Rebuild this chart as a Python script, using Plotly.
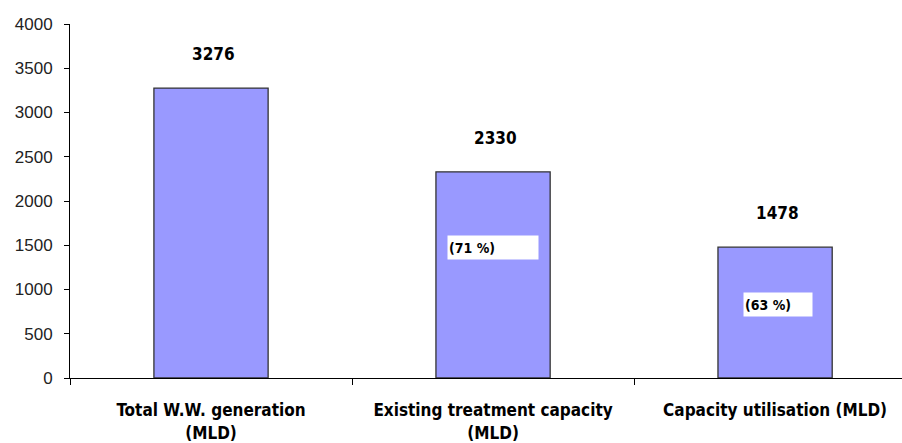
import plotly.graph_objects as go

# Wastewater figures (million litres per day)
categories = ["Total W.W. generation<br>(MLD)",
              "Existing treatment capacity<br>(MLD)",
              "Capacity utilisation (MLD)"]
values = [3276, 2330, 1478]
share_labels = [None, "(71 %)", "(63 %)"]
y_ticks = [0, 500, 1000, 1500, 2000, 2500, 3000, 3500, 4000]

BOLD_FONT = "DejaVu Sans Condensed, Liberation Sans Narrow, Liberation Sans"
x_idx = list(range(len(categories)))

fig = go.Figure()
fig.add_trace(go.Bar(
    x=x_idx,
    y=values,
    width=0.405,
    marker=dict(color="#9999FF", line=dict(color="#333333", width=1.3)),
    hoverinfo="skip",
))

# value labels floating above each bar
for i, v in enumerate(values):
    fig.add_annotation(
        x=i, y=v, text=f"<b>{v}</b>", showarrow=False, yanchor="middle",
        yshift=34, xshift=2,
        font=dict(family=BOLD_FONT, size=17, color="black"),
    )

# white boxes holding the percentage shares inside the bars
box_y = [None, 1470, 835]
box_w = [None, 88, 66]
box_dx = [None, 0, 3]
for i, lab in enumerate(share_labels):
    if lab is None:
        continue
    fig.add_annotation(
        x=i, y=box_y[i], text=f"<b>{lab}</b>", showarrow=False,
        xshift=box_dx[i], width=box_w[i], height=21, align="left",
        bgcolor="white", borderpad=1,
        font=dict(family=BOLD_FONT, size=14, color="black"),
    )

fig.update_layout(
    width=902, height=443,
    margin=dict(l=70, r=0, t=24, b=65),
    plot_bgcolor="white", paper_bgcolor="white",
    showlegend=False,
)
fig.update_xaxes(
    tickmode="array", tickvals=x_idx, ticktext=[f"<b>{c}</b>" for c in categories],
    range=[-0.5, 2.45], showline=True, linecolor="black", linewidth=1,
    ticks="", showgrid=False, zeroline=False, ticklabelstandoff=17,
    tickfont=dict(family=BOLD_FONT, size=17, color="black"),
)
# category boundary tick marks
fig.update_layout(xaxis2=dict(
    overlaying="x", matches="x", range=[-0.5, 2.45], tickmode="array",
    tickvals=[-0.5, 0.5, 1.5, 2.5], ticktext=["", "", "", ""], ticks="outside",
    ticklen=6, tickcolor="black", showgrid=False, zeroline=False, showline=False,
))
fig.add_trace(go.Scatter(x=[0], y=[0], xaxis="x2", mode="markers",
                         marker=dict(opacity=0), hoverinfo="skip"))
fig.update_yaxes(
    range=[0, 4000], tickvals=y_ticks, ticks="outside", ticklen=5, tickcolor="black",
    showline=True, linecolor="black", linewidth=1, showgrid=False, zeroline=False,
    ticklabelstandoff=8,
    tickfont=dict(family="Liberation Sans, Arial", size=17, color="#222222"),
)

fig.write_html("out.html")
